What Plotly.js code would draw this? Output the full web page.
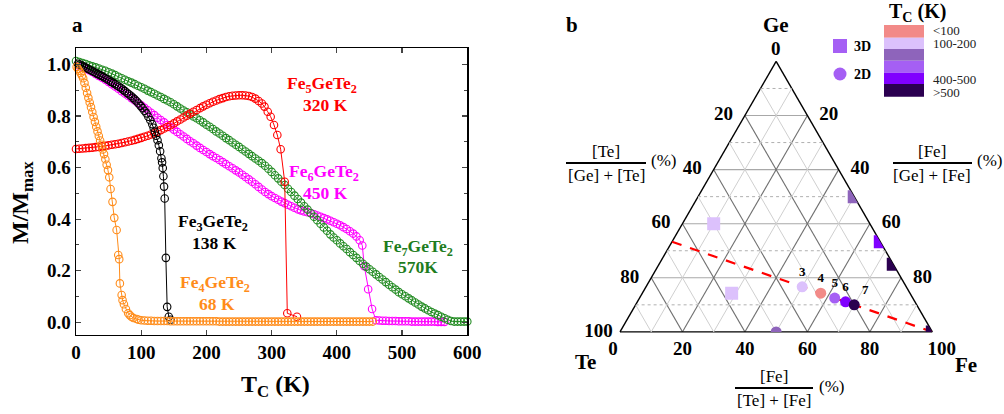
<!DOCTYPE html>
<html>
<head>
<meta charset="utf-8">
<script src="https://cdn.plot.ly/plotly-3.0.1.min.js"></script>
<style>html,body{margin:0;padding:0;background:#fff}#chart{width:1004px;height:414px}</style>
</head>
<body>
<div id="chart"></div>
<script>
// ---------- Panel a : M/Mmax vs T ----------
const fe3_T = [3,6,9,12,15,18,21,24,27,30,33,36,39,42,45,48,51,54,57,60,63,66,69,72,75,78,81,84,87,90,93,96,99,102,105,108,111,114,117,119,121,123,125,127,129,131,132,133,134,135,136,137.8,139.8,142.3,145];
const fe3_M = [1.002,0.999,0.995,0.991,0.987,0.983,0.979,0.975,0.971,0.967,0.963,0.959,0.955,0.951,0.946,0.942,0.937,0.932,0.928,0.923,0.918,0.913,0.908,0.902,0.896,0.890,0.884,0.878,0.871,0.864,0.857,0.848,0.839,0.830,0.820,0.810,0.797,0.783,0.768,0.754,0.739,0.723,0.706,0.686,0.663,0.636,0.620,0.598,0.566,0.526,0.480,0.250,0.060,0.022,0.010];

const fe4_T = [1,3,5,7,9,11,13,15,17,19,21,23,25,27,29,31,33,35,37,39,41,43,45,47,49,51,53,56,58.7,62.3,64.8,66.3,67.3,70,71.4,73.5,76.5,80,82.5,85,88,93,96,100,105,110,115,120,125,130,135,140,145,150,155,160,165,170,175,180,185,190,195,200,205,210,215,220,225,230,235,240,245,250,255,260,265,270,275,280,285,290,295,300,305,310,315,320,325,330,335,340,345,350,355,360,365,370,375,380,385,390,395,400,405,410,415,420,425,430,435,440,445,450,455];
const fe4_M = [0.990,0.983,0.975,0.966,0.957,0.946,0.928,0.909,0.889,0.870,0.852,0.834,0.815,0.796,0.777,0.758,0.740,0.722,0.705,0.688,0.670,0.652,0.632,0.611,0.590,0.562,0.517,0.467,0.405,0.358,0.261,0.245,0.151,0.106,0.086,0.070,0.052,0.035,0.028,0.022,0.017,0.013,0.010,0.008,0.007,0.006,0.006,0.005,0.005,0.005,0.005,0.005,0.004,0.004,0.004,0.004,0.004,0.004,0.004,0.004,0.004,0.004,0.004,0.004,0.004,0.004,0.004,0.003,0.003,0.003,0.003,0.003,0.003,0.003,0.003,0.003,0.003,0.003,0.003,0.003,0.003,0.003,0.003,0.003,0.003,0.003,0.003,0.003,0.003,0.003,0.003,0.003,0.003,0.003,0.003,0.003,0.003,0.003,0.003,0.003,0.003,0.003,0.003,0.003,0.003,0.003,0.003,0.003,0.003,0.003,0.003,0.003,0.003,0.003,0.003];

const fe5_T = [0,5,10,15,20,25,30,35,40,45,50,55,60,65,70,75,80,85,90,95,100,105,110,115,120,125,130,135,140,145,150,155,160,165,170,175,180,185,190,195,200,205,210,215,220,225,230,235,240,245,250,255,260,265,270,275,280,285,289,294,298.5,303.6,308.7,313.8,320,324,338.8];
const fe5_M = [0.672,0.673,0.674,0.675,0.676,0.677,0.679,0.680,0.682,0.684,0.686,0.688,0.690,0.692,0.695,0.698,0.701,0.704,0.707,0.711,0.715,0.719,0.723,0.728,0.733,0.739,0.745,0.751,0.757,0.764,0.771,0.779,0.786,0.794,0.801,0.809,0.816,0.823,0.830,0.837,0.843,0.849,0.855,0.860,0.865,0.869,0.873,0.876,0.878,0.879,0.880,0.880,0.879,0.877,0.873,0.867,0.858,0.848,0.836,0.816,0.797,0.765,0.726,0.671,0.545,0.035,0.022];

const fe6_T = [5,10,15,20,25,30,35,40,45,50,55,60,65,70,75,80,85,90,95,100,105,110,115,120,125,130,135,140,145,150,155,160,165,170,175,180,185,190,195,200,205,210,215,220,225,230,235,240,245,250,255,260,265,270,275,280,285,290,295,300,305,310,315,320,325,330,335,340,345,350,355,360,365,370,375,380,385,390,395,400,405,410,415,420,425,430,435,439,442,448,454,460,465,470,475,480,485,490,495,500,505,510,515,520,525,530,535,540,545,550,555,560,565];
const fe6_M = [0.995,0.990,0.984,0.977,0.970,0.963,0.955,0.948,0.940,0.932,0.923,0.914,0.905,0.896,0.887,0.878,0.869,0.860,0.850,0.841,0.831,0.822,0.812,0.803,0.793,0.784,0.775,0.765,0.756,0.747,0.738,0.729,0.720,0.711,0.702,0.694,0.685,0.676,0.668,0.660,0.652,0.644,0.637,0.629,0.621,0.613,0.605,0.597,0.589,0.581,0.572,0.563,0.554,0.545,0.535,0.525,0.515,0.505,0.497,0.489,0.482,0.475,0.468,0.462,0.456,0.450,0.444,0.438,0.434,0.430,0.427,0.424,0.419,0.414,0.409,0.404,0.399,0.394,0.388,0.382,0.376,0.369,0.362,0.353,0.344,0.333,0.318,0.298,0.218,0.128,0.052,0.008,0.007,0.006,0.006,0.005,0.005,0.005,0.004,0.004,0.004,0.004,0.003,0.003,0.003,0.003,0.003,0.003,0.003,0.003,0.002,0.002,0.002];

const fe7_T = [0,5,10,15,20,25,30,35,40,45,50,55,60,65,70,75,80,85,90,95,100,105,110,115,120,125,130,135,140,145,150,155,160,165,170,175,180,185,190,195,200,205,210,215,220,225,230,235,240,245,250,255,260,265,270,275,280,285,290,295,300,305,310,315,320,325,330,335,340,345,350,355,360,365,370,375,380,385,390,395,400,405,410,415,420,425,430,435,440,445,450,455,460,465,470,475,480,485,490,495,500,505,510,515,520,525,530,535,540,545,550,555,560,565,570,575,580,585,590,595,600];
const fe7_M = [1.013,1.009,1.005,1.001,0.996,0.992,0.988,0.984,0.979,0.975,0.969,0.964,0.958,0.952,0.946,0.940,0.934,0.929,0.923,0.917,0.911,0.905,0.898,0.892,0.886,0.879,0.873,0.866,0.860,0.853,0.845,0.837,0.829,0.821,0.814,0.806,0.798,0.791,0.783,0.775,0.766,0.758,0.749,0.740,0.732,0.723,0.714,0.706,0.697,0.688,0.680,0.671,0.662,0.653,0.644,0.635,0.626,0.617,0.607,0.595,0.583,0.570,0.558,0.545,0.532,0.518,0.505,0.491,0.478,0.464,0.450,0.437,0.423,0.409,0.396,0.382,0.368,0.355,0.341,0.329,0.318,0.306,0.295,0.284,0.272,0.261,0.250,0.238,0.227,0.216,0.206,0.196,0.186,0.176,0.166,0.156,0.146,0.136,0.127,0.117,0.109,0.101,0.093,0.085,0.077,0.069,0.061,0.054,0.047,0.040,0.034,0.028,0.022,0.016,0.010,0.005,0.003,0.003,0.003,0.003,0.003];

const seriesNames = ['Fe<sub>3</sub>GeTe<sub>2</sub>','Fe<sub>4</sub>GeTe<sub>2</sub>','Fe<sub>5</sub>GeTe<sub>2</sub>','Fe<sub>6</sub>GeTe<sub>2</sub>','Fe<sub>7</sub>GeTe<sub>2</sub>'];
const seriesTc = ['138 K','68 K','320 K','450 K','570K'];
const xTicks = [0,100,200,300,400,500,600];
const yTicks = [0,0.2,0.4,0.6,0.8,1.0];

// ---------- Panel b : ternary Ge / Te / Fe ----------
const circ_ge = [16.67,14.29,12.5,11.11,10,0];
const circ_te = [33.33,28.57,25,22.22,20,50];
const circ_fe = [50,57.14,62.5,66.67,70,50];
const circ_lab = ['3','4','5','6','7',''];
const circ_bin = [1,0,3,4,5,2];
const sq_ge = [40,14.3,50,33.3,25,0];
const sq_te = [50,57.1,0,0,0,0];
const sq_fe = [10,28.6,50,66.7,75,100];
const sq_bin = [1,1,2,4,5,5];
const line_ge = [33.33,0];
const line_te = [66.67,0];
const line_fe = [0,100];
const binColors = ['#f28a88','#dcc1fc','#8e64bb','#a55ff4','#8000ff','#2b0050'];
const binLabels = ['<100','100-200','','','400-500','>500'];
const ternTicks = [0,20,40,60,80,100];

// ---------- helpers ----------
const W=1004, H=414;
const SERIF='"Liberation Serif", "Times New Roman", serif';
const NB='\u00a0';
const px = x => x/W, py = y => 1 - y/H;
function ann(text, x, y, font, extra){
  return Object.assign({text:text, x:px(x), y:py(y), xref:'paper', yref:'paper', showarrow:false,
    xanchor:'center', yanchor:'middle', font:Object.assign({family:SERIF,size:18,color:'#000'},font||{})}, extra||{});
}
const annotations=[], shapes=[];

// panel a curves
const cols = ['#000000','#ff8c1a','#ff0000','#ff00ff','#228b22'];
const TS = [fe3_T,fe4_T,fe5_T,fe6_T,fe7_T], MS=[fe3_M,fe4_M,fe5_M,fe6_M,fe7_M];
const order = [3,4,2,0,1];
const traces=[];
order.forEach(i=>{
  traces.push({type:'scatter', mode:'lines+markers', x:TS[i], y:MS[i], xaxis:'x', yaxis:'y', cliponaxis:false,
    line:{color:cols[i], width:1}, marker:{symbol:'circle-open', size:7.5, color:cols[i], line:{width:1.1, color:cols[i]}},
    showlegend:false, hoverinfo:'skip'});
});

// labels of curves
const labPos = [[213,221,214,243],[215,281,217,304],[322,82,325,105],[324,170,325,193],[418,245,418,267]];
const txtCols = ['#000000','#ff8c1a','#ff0000','#ff00ff','#1e7d1e'];
for(let i=0;i<5;i++){
  const p=labPos[i];
  annotations.push(ann('<b>'+seriesNames[i]+'</b>', p[0], p[1]+2, {size:17.5,color:txtCols[i]}));
  annotations.push(ann('<b>'+seriesTc[i]+'</b>', p[2], p[3], {size:17.5,color:txtCols[i]}));
}
annotations.push(ann('<b>a</b>', 77, 25, {size:21}));
annotations.push(ann('<b>T<sub>C</sub> (K)</b>', 275, 386, {size:24}));
annotations.push(ann('<b>M/M<sub>max</sub></b>', 22, 203, {size:24}, {textangle:-90}));

// ---------- ternary extras ----------
// minor grid (every 10, odd) drawn through the ternary scales
const minorVals=[10,30,50,70,90];
const mh={a:[],b:[],c:[]}, ms={a:[],b:[],c:[]};
minorVals.forEach(v=>{
  mh.a.push(v,v,null); mh.b.push(100-v,0,null); mh.c.push(0,100-v,null);
  ms.a.push(100-v,0,null); ms.b.push(v,v,null); ms.c.push(0,100-v,null);
  ms.a.push(100-v,0,null); ms.b.push(0,100-v,null); ms.c.push(v,v,null);
});
traces.push({type:'scatterternary', mode:'lines', a:mh.a, b:mh.b, c:mh.c, line:{color:'#b0b0b0', width:1, dash:'dot'}, showlegend:false, hoverinfo:'skip', connectgaps:false});
traces.push({type:'scatterternary', mode:'lines', a:ms.a, b:ms.b, c:ms.c, line:{color:'#cfcfcf', width:1}, showlegend:false, hoverinfo:'skip', connectgaps:false});

traces.push({type:'scatterternary', mode:'lines', a:line_ge, b:line_te, c:line_fe,
  line:{color:'#ff0000', width:2.2, dash:'10px,9px'}, showlegend:false, hoverinfo:'skip'});
traces.push({type:'scatterternary', mode:'markers', a:sq_ge, b:sq_te, c:sq_fe,
  marker:{symbol:'square', size:13, color:sq_bin.map(k=>binColors[k]), line:{width:0}}, showlegend:false, hoverinfo:'skip'});
traces.push({type:'scatterternary', mode:'markers+text', a:circ_ge, b:circ_te, c:circ_fe, text:circ_lab,
  textposition:['top center','top center','top center','top center','top right','top center'],
  textfont:{family:SERIF, size:13, color:'#000', weight:'bold'},
  marker:{symbol:'circle', size:11, color:circ_bin.map(k=>binColors[k]), line:{width:0}}, showlegend:false, hoverinfo:'skip'});

const TF={family:SERIF, size:19, color:'#000', weight:'bold'};
const axBase={title:{text:''}, tickmode:'array', tickfont:TF, showline:true, linecolor:'#000', linewidth:1.4,
  showgrid:true, gridwidth:1.1, layer:'below traces', ticks:''};

annotations.push(ann('<b>b</b>', 572, 25, {size:21}));
annotations.push(ann('<b>Ge</b>', 776, 25, {size:21}));
annotations.push(ann('<b>Te</b>', 585, 362, {size:21}));
annotations.push(ann('<b>Fe</b>', 966, 365, {size:21}));
annotations.push(ann('<b>0</b>', 776, 49, {size:19}));

// fractions
function fraction(num, den, cx, barY, x0, x1, pctX){
  annotations.push(ann(num, cx, barY-12, {size:17}));
  annotations.push(ann(den, cx, barY+12, {size:17}));
  annotations.push(ann('(%)', pctX, barY-2, {size:17}));
  shapes.push({type:'line', xref:'paper', yref:'paper', x0:px(x0), x1:px(x1), y0:py(barY), y1:py(barY), line:{color:'#000', width:1.8}});
}
fraction('[Te]','[Ge] + [Te]', 606, 163, 566, 646, 663);
fraction('[Fe]','[Ge] + [Fe]', 932, 163, 893, 972, 989);
fraction('[Fe]','[Te] + [Fe]', 774, 388, 735, 813, 831);

// Tc colour key
const keyEdges=[25,37.7,49,60.7,72.7,84,96.7];
const keyLabY=[30.5,43.5,null,null,80,92];
for(let k=0;k<6;k++){
  shapes.push({type:'rect', xref:'paper', yref:'paper', x0:px(884), x1:px(924), y0:py(keyEdges[k]), y1:py(keyEdges[k+1]), fillcolor:binColors[k], line:{width:0}});
  if(binLabels[k]) annotations.push(ann(binLabels[k], 931, keyLabY[k], {size:13, color:'#222'}, {xanchor:'left'}));
}
annotations.push(ann('<b>T<sub>C</sub> (K)</b>', 917, 12, {size:20}));
// 3D / 2D key
shapes.push({type:'rect', xref:'paper', yref:'paper', x0:px(833), x1:px(847), y0:py(39), y1:py(53), fillcolor:'#a55ff4', line:{width:0}});
shapes.push({type:'circle', xref:'paper', yref:'paper', x0:px(833.5), x1:px(846.5), y0:py(67.5), y1:py(80.5), fillcolor:'#a55ff4', line:{width:0}});
annotations.push(ann('<b>3D</b>', 852, 46.5, {size:14}, {xanchor:'left'}));
annotations.push(ann('<b>2D</b>', 852, 74.5, {size:14}, {xanchor:'left'}));

const bText = ternTicks.map(v=>{
  const s=String(100-v);
  if(v===100) return s+NB+NB+NB;
  if(v===0) return NB+NB+NB+NB+s;
  return s;
});

const layout={
  width:W, height:H, margin:{l:0,r:0,t:0,b:0}, paper_bgcolor:'#fff', plot_bgcolor:'#fff',
  showlegend:false, hovermode:false,
  font:{family:SERIF, color:'#000'},
  xaxis:{domain:[px(76),px(467.3)], range:[0,600], tickvals:xTicks, ticktext:xTicks.map(String),
    ticks:'inside', ticklen:5, tickwidth:1.2, mirror:'ticks', showline:true, linecolor:'#000', linewidth:1.4,
    showgrid:false, zeroline:false, tickfont:{family:SERIF,size:19,weight:'bold'}, anchor:'y', title:{text:''}},
  yaxis:{domain:[py(335),py(48.3)], range:[-0.049,1.062], tickvals:yTicks, ticktext:yTicks.map(v=>v.toFixed(1)),
    ticks:'inside', ticklen:5, tickwidth:1.2, mirror:'ticks', showline:true, linecolor:'#000', linewidth:1.4,
    minor:{ticks:'inside', dtick:0.1, ticklen:3, tickwidth:1},
    showgrid:false, zeroline:false, tickfont:{family:SERIF,size:19,weight:'bold'}, anchor:'x', title:{text:''}},
  ternary:{
    domain:{x:[px(620),px(932.3)], y:[py(332.3),py(61)]},
    sum:100, bgcolor:'rgba(0,0,0,0)',
    aaxis:Object.assign({}, axBase, {tickvals:ternTicks.slice(0,5),
      ticktext:ternTicks.slice(0,5).map(v=>String(100-v)+(v===0?NB:NB+NB)), gridcolor:'#a8a8a8'}),
    baxis:Object.assign({}, axBase, {tickvals:ternTicks, ticktext:bText, gridcolor:'#707070'}),
    caxis:Object.assign({}, axBase, {tickvals:ternTicks.slice(1,5), ticktext:ternTicks.slice(1,5).map(v=>NB+NB+String(v)), gridcolor:'#707070'})
  },
  annotations:annotations, shapes:shapes
};
Plotly.newPlot('chart', traces, layout, {staticPlot:true, displayModeBar:false});
</script>
</body>
</html>
